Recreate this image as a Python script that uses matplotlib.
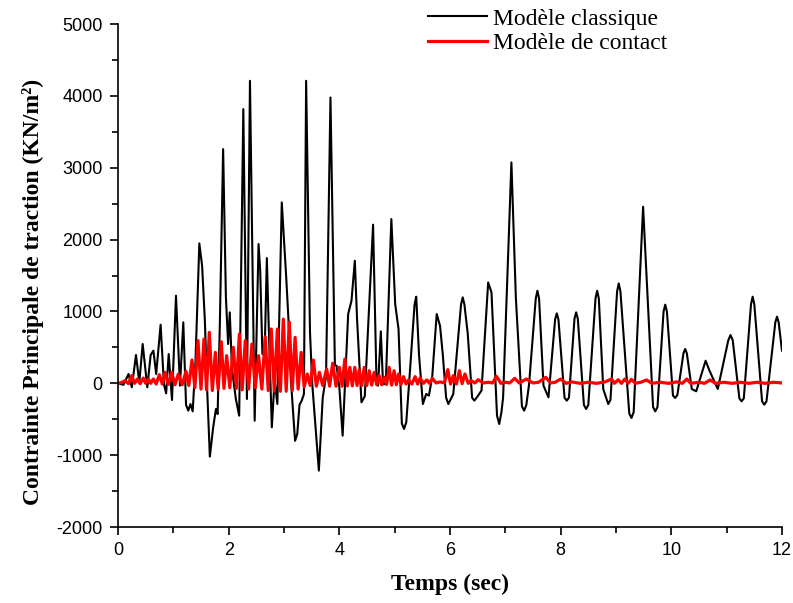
import matplotlib
matplotlib.use("Agg")
import matplotlib.pyplot as plt
from matplotlib.ticker import MultipleLocator

plt.rcParams["axes.unicode_minus"] = False

# Principal tensile stress time histories (KN/m^2) vs time (s)
t_classique = [
    0.0, 0.10, 0.19, 0.25, 0.325, 0.385, 0.446, 0.53, 0.59, 0.64,
    0.69, 0.77, 0.83, 0.87, 0.916, 0.976, 1.048, 1.12, 1.18, 1.23,
    1.27, 1.31, 1.35, 1.40, 1.47, 1.52, 1.57, 1.61, 1.66, 1.72,
    1.77, 1.80, 1.84, 1.90, 1.95, 1.99, 2.02, 2.06, 2.13, 2.19,
    2.265, 2.33, 2.385, 2.47, 2.54, 2.57, 2.61, 2.65, 2.69, 2.72,
    2.78, 2.83, 2.88, 2.96, 3.04, 3.08, 3.12, 3.20, 3.24, 3.28,
    3.32, 3.36, 3.40, 3.47, 3.51, 3.63, 3.70, 3.76, 3.84, 3.92,
    3.95, 4.00, 4.06, 4.16, 4.22, 4.28, 4.32, 4.40, 4.46, 4.61,
    4.67, 4.70, 4.75, 4.79, 4.84, 4.94, 5.01, 5.07, 5.13, 5.17,
    5.21, 5.27, 5.36, 5.39, 5.44, 5.51, 5.57, 5.62, 5.68, 5.76,
    5.82, 5.87, 5.93, 5.97, 6.06, 6.20, 6.23, 6.26, 6.32, 6.40,
    6.44, 6.50, 6.57, 6.69, 6.75, 6.85, 6.89, 6.93, 6.96, 7.11,
    7.19, 7.30, 7.34, 7.38, 7.43, 7.55, 7.58, 7.61, 7.69, 7.78,
    7.90, 7.93, 7.96, 8.07, 8.11, 8.15, 8.25, 8.28, 8.31, 8.42,
    8.46, 8.50, 8.63, 8.66, 8.69, 8.77, 8.86, 8.90, 9.02, 9.05,
    9.08, 9.24, 9.28, 9.32, 9.49, 9.67, 9.71, 9.75, 9.86, 9.89,
    9.92, 10.03, 10.07, 10.11, 10.22, 10.25, 10.28, 10.37, 10.45, 10.62,
    10.69, 10.84, 11.03, 11.07, 11.11, 11.23, 11.27, 11.31, 11.44, 11.47,
    11.50, 11.64, 11.68, 11.72, 11.88, 11.91, 11.94, 12.0,
]
v_classique = [
    0, -20, 130, -55, 394, 14, 547, -55, 394, 455,
    130, 816, -10, -140, 408, -232, 1220, -32, 849, -300,
    -380, -288, -390, 300, 1948, 1637, 872, -56, -1020, -612,
    -357, -427, 800, 3260, 1200, 547, 988, 200, -218, -450,
    3817, -218, 4211, -520, 1939, 1568, 408, 400, 1744, 900,
    -612, 50, -288, 2518, 1475, 900, 100, -800, -705, -300,
    -241, -150, 4211, 710, 0, -1215, -200, 100, 3979, 250,
    245, -55, -728, 965, 1150, 1707, 900, -264, -180, 2208,
    100, -32, 724, -10, -10, 2287, 1100, 756, -560, -635,
    -540, 100, 1100, 1206, 400, -288, -148, -170, 100, 965,
    800, 400, -200, -288, -148, 1100, 1197, 1100, 700, -200,
    -241, -180, -100, 1405, 1266, -450, -566, -400, -195, 3075,
    1197, -320, -380, -300, -9, 1180, 1289, 1180, -32, -195,
    890, 974, 890, -200, -241, -200, 900, 988, 900, -300,
    -357, -300, 1180, 1289, 1180, -80, -288, -230, 1280, 1391,
    1280, -420, -482, -400, 2458, -330, -390, -330, 1000, 1095,
    1000, -170, -204, -160, 420, 478, 420, -79, -111, 315,
    176, -79, 600, 672, 600, -210, -250, -210, 1100, 1206,
    1100, -250, -297, -250, 850, 928, 850, 455,
]

t_contact = [
    0.0, 0.06, 0.127, 0.19, 0.247, 0.30, 0.35, 0.40, 0.458, 0.50, 0.548, 0.59,
    0.639, 0.69, 0.747, 0.80, 0.849, 0.91, 0.97, 1.03, 1.09, 1.16, 1.229, 1.28,
    1.337, 1.39, 1.446, 1.50, 1.554, 1.60, 1.65, 1.705, 1.759, 1.81, 1.867,
    1.915, 1.964, 2.02, 2.084, 2.14, 2.193, 2.245, 2.30, 2.36, 2.42, 2.48,
    2.54, 2.60, 2.66, 2.715, 2.77, 2.825, 2.88, 2.935, 2.988, 3.04, 3.096,
    3.15, 3.20, 3.255, 3.31, 3.365, 3.42, 3.475, 3.53, 3.585, 3.64, 3.70,
    3.77, 3.825, 3.88, 3.94, 4.00, 4.05, 4.10, 4.145, 4.19, 4.235, 4.28, 4.32,
    4.36, 4.405, 4.45, 4.495, 4.54, 4.585, 4.63, 4.675, 4.72, 4.765, 4.81,
    4.855, 4.90, 4.945, 4.99, 5.03, 5.07, 5.115, 5.16, 5.205, 5.25, 5.31,
    5.37, 5.415, 5.46, 5.52, 5.58, 5.63, 5.68, 5.75, 5.82, 5.90, 5.96, 6.01,
    6.06, 6.115, 6.17, 6.22, 6.27, 6.33, 6.38, 6.45, 6.51, 6.60, 6.70, 6.77,
    6.84, 6.92, 7.00, 7.08, 7.17, 7.25, 7.38, 7.50, 7.60, 7.73, 7.82, 7.90,
    8.00, 8.10, 8.20, 8.35, 8.50, 8.65, 8.80, 8.92, 8.97, 9.04, 9.10, 9.16,
    9.22, 9.28, 9.35, 9.45, 9.55, 9.65, 9.80, 9.95, 10.10, 10.20, 10.28,
    10.35, 10.50, 10.60, 10.70, 10.80, 10.95, 11.10, 11.25, 11.40, 11.55,
    11.70, 11.85, 12.0,
]
v_contact = [
    0, 10, 37, -5, 107, 0, 60, -5, 74, 0, 60, 0,
    60, -10, 120, -10, 153, -15, 153, -20, 130, -20, 167, -30,
    325, -60, 594, -80, 617, -90, 710, -100, 431, -80, 580,
    -70, 385, -60, 501, -70, 686, -90, 594, -80, 547, -60,
    385, -80, 649, -100, 756, -110, 756, -110, 895, -110, 853,
    -100, 640, -80, 431, -50, 130, -30, 325, -40, 153, -30,
    200, -40, 280, -40, 223, -40, 339, -35, 223, -35, 223, -30,
    186, -30, 223, -30, 176, -25, 153, -20, 107, -20, 84,
    -15, 223, -25, 176, -20, 130, -15, 93, -10, 47, -10,
    93, -10, 75, 0, 47, 0, 70, 5, 20, 5, 190, -10,
    107, -10, 176, -5, 130, 0, 40, 5, 50, 5, 15, 5,
    97, 0, 15, 5, 70, 5, 60, 5, 15, 83, 5, 15,
    60, 0, 20, 0, 15, 0, 20, 60, 0, 50, 0, 60,
    0, 55, 0, 15, 47, 0, 15, 0, 20, 0, 60,
    0, 15, 0, 47, 0, 15, 0, 15, 0, 15,
    0, 15, 5,
]

label_classique = "Modèle classique"
label_contact = "Modèle de contact"

fig = plt.figure(figsize=(7.93, 6.03), dpi=100)
ax = fig.add_axes([0.1488, 0.126, 0.8373, 0.834])

ax.plot(t_classique, v_classique, color="black", lw=1.5, label=label_classique)
ax.plot(t_contact, v_contact, color="red", lw=2.3, label=label_contact)

ax.set_xlim(0, 12)
ax.set_ylim(-2000, 5000)
ax.xaxis.set_major_locator(MultipleLocator(2))
ax.xaxis.set_minor_locator(MultipleLocator(1))
ax.yaxis.set_major_locator(MultipleLocator(1000))
ax.yaxis.set_minor_locator(MultipleLocator(500))

for side in ("top", "right"):
    ax.spines[side].set_visible(False)
for side in ("left", "bottom"):
    ax.spines[side].set_linewidth(1.2)

ax.tick_params(which="both", direction="out", width=1.2)
ax.tick_params(which="major", length=6, pad=5)
ax.tick_params(which="minor", length=4)
for lab in ax.get_xticklabels() + ax.get_yticklabels():
    lab.set_fontfamily("Liberation Sans")
    lab.set_fontsize(13)

ax.set_xlabel("Temps (sec)", fontfamily="Liberation Serif", fontweight="bold",
              fontsize=17)
ax.set_ylabel("Contrainte Principale de traction (KN/m²)",
              fontfamily="Liberation Serif", fontweight="bold", fontsize=17)
ax.xaxis.set_label_coords(0.5, -0.093)
ax.yaxis.set_label_coords(-0.112, 0.467)

leg = ax.legend(loc="upper left", bbox_to_anchor=(0.467, 1.032), frameon=False,
                prop={"family": "Liberation Serif", "size": 17},
                handlelength=2.5, handletextpad=0.25, labelspacing=0.12,
                borderpad=0.0, borderaxespad=0.0)

fig.savefig("out.png", dpi=100)
